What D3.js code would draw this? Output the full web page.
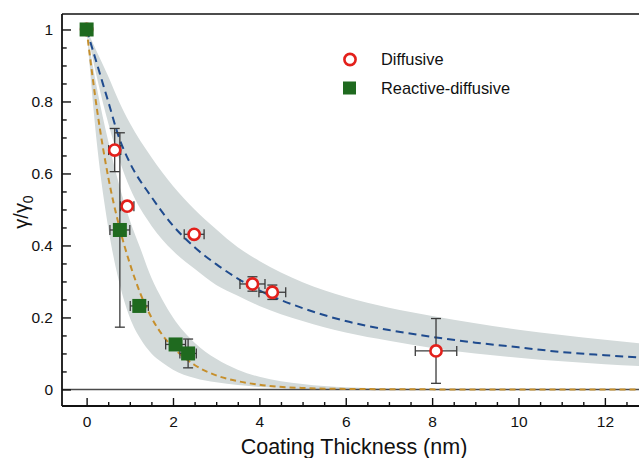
<!DOCTYPE html>
<html>
<head>
<meta charset="utf-8">
<script src="https://cdn.jsdelivr.net/npm/d3@7"></script>
<style>
  html, body { margin: 0; padding: 0; background: #fff; }
  svg { display: block; font-family: "Liberation Sans", Arial, Helvetica, sans-serif; }
</style>
</head>
<body>
<svg id="chart" width="639" height="458"></svg>
<script>
// Measured uptake coefficients (normalised) versus coating thickness
const diffX     = [0, 0.65, 0.94, 2.49, 3.84, 4.30, 8.09];
const diffY     = [1.0, 0.665, 0.509, 0.431, 0.293, 0.270, 0.107];
const diffXErr  = [0, 0.14, 0.155, 0.23, 0.29, 0.31, 0.48];
const diffYErr  = [0, 0.06, 0.01, 0.01, 0.02, 0.02, 0.09];

const reactX    = [0, 0.77, 1.22, 2.06, 2.35];
const reactY    = [1.0, 0.443, 0.232, 0.125, 0.100];
const reactXErr = [0, 0.23, 0.21, 0.23, 0.19];
const reactYErr = [0, 0.27, 0.01, 0.01, 0.04];

// Model fits with their uncertainty envelopes
const diffFitX  = [0, 0.25, 0.5, 0.75, 1, 1.5, 2, 2.5, 3, 3.5, 4, 5, 6, 7, 8, 9, 10, 11, 12, 13];
const diffFit   = [1, 0.90, 0.80, 0.70, 0.63, 0.535, 0.455, 0.395, 0.348, 0.308, 0.275, 0.226, 0.19, 0.165, 0.146, 0.13, 0.117, 0.104, 0.095, 0.087];
const diffUpper = [1, 0.935, 0.87, 0.80, 0.74, 0.645, 0.565, 0.50, 0.445, 0.395, 0.357, 0.298, 0.257, 0.227, 0.204, 0.184, 0.166, 0.151, 0.138, 0.126];
const diffLower = [1, 0.86, 0.74, 0.64, 0.56, 0.455, 0.385, 0.335, 0.29, 0.26, 0.232, 0.19, 0.158, 0.135, 0.115, 0.10, 0.088, 0.078, 0.07, 0.064];

const reactFitX  = [0, 0.25, 0.5, 0.75, 1, 1.25, 1.5, 1.75, 2, 2.5, 3, 3.5, 4, 5, 6, 8, 10, 13];
const reactFit   = [1, 0.77, 0.59, 0.455, 0.35, 0.265, 0.2, 0.152, 0.117, 0.068, 0.039, 0.023, 0.013, 0.004, 0.0015, 0.0002, 0, 0];
const reactUpper = [1, 0.83, 0.69, 0.57, 0.47, 0.39, 0.31, 0.25, 0.2, 0.13, 0.085, 0.055, 0.035, 0.015, 0.006, 0.001, 0, 0];
const reactLower = [1, 0.67, 0.45, 0.30, 0.20, 0.14, 0.10, 0.075, 0.055, 0.032, 0.02, 0.012, 0.007, 0.002, 0, 0, 0, 0];

const xMajor = [0, 2, 4, 6, 8, 10, 12];
const yMajor = [0, 0.2, 0.4, 0.6, 0.8, 1];
const yTickLabels = ["0", "0.2", "0.4", "0.6", "0.8", "1"];
const seriesNames = ["Diffusive", "Reactive-diffusive"];

const svg = d3.select("#chart");
const plotLeft = 62, plotRight = 639, plotTop = 14, plotBottom = 406;

const x = d3.scaleLinear().domain([-0.57, 12.79]).range([plotLeft, plotRight]);
const y = d3.scaleLinear().domain([-0.046, 1.043]).range([plotBottom, plotTop]);

const red = "#e3201b", green = "#1f6a1f", blue = "#1f4b8e", gold = "#c68f2c", band = "#d3dada";
const errColor = "#3a3a3a";

svg.append("defs").append("clipPath").attr("id", "plot")
  .append("rect").attr("x", plotLeft).attr("y", plotTop)
  .attr("width", plotRight - plotLeft).attr("height", plotBottom - plotTop);

const plot = svg.append("g").attr("clip-path", "url(#plot)");

function bandArea(xs, lo, hi) {
  return d3.area().curve(d3.curveMonotoneX)
    .x((d, i) => x(xs[i])).y0((d, i) => y(lo[i])).y1((d, i) => y(hi[i]))(xs);
}
function fitLine(xs, ys) {
  return d3.line().curve(d3.curveMonotoneX).x((d, i) => x(xs[i])).y((d, i) => y(ys[i]))(xs);
}

// uncertainty bands
plot.append("path").attr("d", bandArea(diffFitX, diffLower, diffUpper)).attr("fill", band);
plot.append("path").attr("d", bandArea(reactFitX, reactLower, reactUpper)).attr("fill", band);

// zero reference line
plot.append("line").attr("x1", plotLeft).attr("x2", plotRight).attr("y1", y(0)).attr("y2", y(0))
  .attr("stroke", "#4a4a4a").attr("stroke-width", 1.5);

// fitted curves
plot.append("path").attr("d", fitLine(reactFitX, reactFit)).attr("fill", "none")
  .attr("stroke", gold).attr("stroke-width", 2).attr("stroke-dasharray", "6,4");
plot.append("path").attr("d", fitLine(diffFitX, diffFit)).attr("fill", "none")
  .attr("stroke", blue).attr("stroke-width", 2).attr("stroke-dasharray", "8,5");

// error bars
function errorBars(xs, ys, xe, ye) {
  const g = plot.append("g").attr("stroke", errColor).attr("stroke-width", 1.3).attr("fill", "none");
  xs.forEach((xv, i) => {
    const cx = x(xv), cy = y(ys[i]);
    if (ye[i] > 0) {
      const y1 = y(ys[i] + ye[i]), y2 = y(ys[i] - ye[i]);
      g.append("line").attr("x1", cx).attr("x2", cx).attr("y1", y1).attr("y2", y2);
      g.append("line").attr("x1", cx - 5).attr("x2", cx + 5).attr("y1", y1).attr("y2", y1);
      g.append("line").attr("x1", cx - 5).attr("x2", cx + 5).attr("y1", y2).attr("y2", y2);
    }
    if (xe[i] > 0) {
      const x1 = x(xv - xe[i]), x2 = x(xv + xe[i]);
      g.append("line").attr("x1", x1).attr("x2", x2).attr("y1", cy).attr("y2", cy);
      g.append("line").attr("x1", x1).attr("x2", x1).attr("y1", cy - 5).attr("y2", cy + 5);
      g.append("line").attr("x1", x2).attr("x2", x2).attr("y1", cy - 5).attr("y2", cy + 5);
    }
  });
}
errorBars(diffX, diffY, diffXErr, diffYErr);
errorBars(reactX, reactY, reactXErr, reactYErr);

// markers
plot.append("g").selectAll("circle").data(diffX).join("circle")
  .attr("cx", d => x(d)).attr("cy", (d, i) => y(diffY[i])).attr("r", 5.6)
  .attr("fill", "#fff").attr("stroke", red).attr("stroke-width", 2.6);
plot.append("g").selectAll("rect").data(reactX).join("rect")
  .attr("x", d => x(d) - 7).attr("y", (d, i) => y(reactY[i]) - 7).attr("width", 14).attr("height", 14)
  .attr("fill", green);

// axes: ticks point into the plot
const yMinor = d3.range(0, 1.0001, 0.05).filter(v => !yMajor.some(m => Math.abs(m - v) < 1e-6));
const xMinor = d3.range(0, 12.8, 0.5).filter(v => !xMajor.some(m => Math.abs(m - v) < 1e-6));

svg.append("g").attr("transform", `translate(${plotLeft},0)`)
  .call(d3.axisLeft(y).tickValues(yMajor).tickSize(-9).tickPadding(9)
    .tickFormat((d, i) => yTickLabels[i]));
svg.append("g").attr("transform", `translate(${plotLeft},0)`)
  .call(d3.axisLeft(y).tickValues(yMinor).tickSize(-4.7).tickFormat(""));

svg.append("g").attr("transform", `translate(0,${plotBottom})`)
  .call(d3.axisBottom(x).tickValues(xMajor).tickSize(-8).tickPadding(9.5).tickFormat(d3.format("d")));
svg.append("g").attr("transform", `translate(0,${plotBottom})`)
  .call(d3.axisBottom(x).tickValues(xMinor).tickSize(-4).tickFormat(""));

svg.selectAll(".domain").remove();
svg.selectAll(".tick line").attr("stroke", "#111").attr("stroke-width", 1.4);
svg.selectAll(".tick text").attr("font-size", 15.5).attr("fill", "#111")
  .attr("font-family", "'Liberation Sans', Arial, sans-serif");

// frame
const frame = svg.append("g").attr("stroke", "#111").attr("stroke-width", 1.8);
frame.append("line").attr("x1", plotLeft).attr("x2", plotLeft).attr("y1", plotTop).attr("y2", plotBottom);
frame.append("line").attr("x1", plotLeft).attr("x2", plotRight).attr("y1", plotBottom).attr("y2", plotBottom);
frame.append("line").attr("x1", plotLeft).attr("x2", plotRight).attr("y1", plotTop).attr("y2", plotTop)
  .attr("stroke-width", 1.3);

// axis titles
svg.append("text").attr("x", 354).attr("y", 454).attr("text-anchor", "middle")
  .attr("font-size", 21.5).attr("fill", "#111").text("Coating Thickness (nm)");

const yt = svg.append("text").attr("transform", "translate(28,212) rotate(-90)")
  .attr("text-anchor", "middle").attr("font-size", 20).attr("fill", "#111");
yt.append("tspan").text("γ/γ");
yt.append("tspan").attr("font-size", 14).attr("dy", 5).text("0");

// legend
const lg = svg.append("g");
lg.append("circle").attr("cx", 350).attr("cy", 59.5).attr("r", 5.6)
  .attr("fill", "#fff").attr("stroke", red).attr("stroke-width", 2.6);
lg.append("rect").attr("x", 343).attr("y", 81.5).attr("width", 13).attr("height", 13).attr("fill", green);
lg.selectAll("text").data(seriesNames).join("text")
  .attr("x", 381).attr("y", (d, i) => 59.5 + i * 28.5).attr("dy", "0.35em")
  .attr("font-size", 16.4).attr("fill", "#111").text(d => d);
</script>
</body>
</html>
